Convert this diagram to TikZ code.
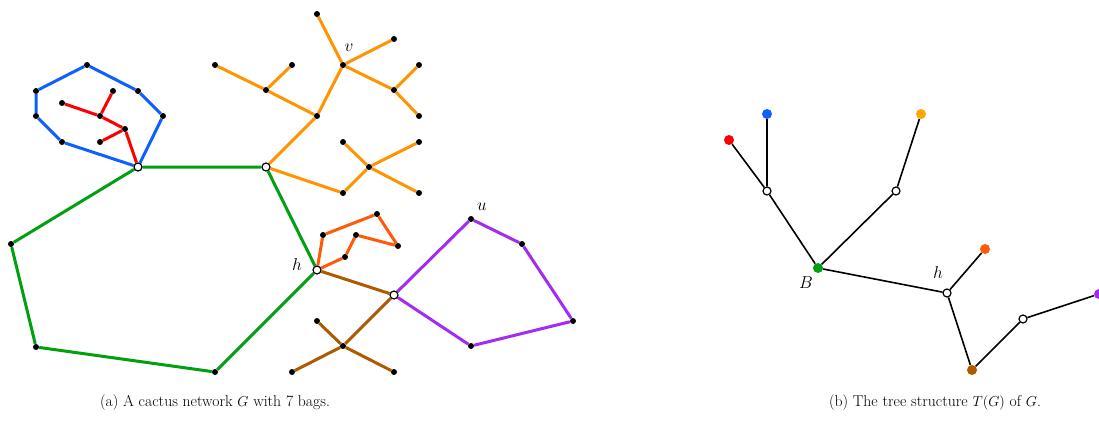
\documentclass[tikz,border=0pt]{standalone}
\usetikzlibrary{backgrounds}
\definecolor{bagblue}{HTML}{0F5FFF}
\definecolor{bagred}{HTML}{FF0000}
\definecolor{baggreen}{HTML}{00A010}
\definecolor{bagorange}{HTML}{FF9400}
\definecolor{bagyellow}{HTML}{FFA500}
\definecolor{bagtomato}{HTML}{FF5A08}
\definecolor{bagbrown}{HTML}{AE5A00}
\definecolor{bagpurple}{HTML}{A42CF0}
\begin{document}
\begin{tikzpicture}[x=1pt,y=-1pt,
    dot/.style={circle,fill=black,inner sep=0pt,minimum size=6pt},
    cut/.style={circle,draw=black,fill=white,line width=1.2pt,inner sep=0pt,minimum size=8pt},
    tdot/.style={circle,fill=#1,inner sep=0pt,minimum size=10pt},
    bagedge/.style={line width=3pt,draw=#1},
    tedge/.style={line width=1.6pt,draw=black},
    lbl/.style={font=\fontsize{17}{20}\selectfont,inner sep=0pt},
    captext/.style={font=\fontsize{15.7}{19}\selectfont}]
  \useasboundingbox (0,0) rectangle (1099,420);

  % (a) cactus network G
  % cut vertices
  \node[cut] (c1) at (138,167) {};
  \node[cut] (c2) at (266,167) {};
  \node[cut] (h)  at (317,270) {};
  \node[cut] (c4) at (394,295) {};
  % blue bag
  \node[dot] (b1) at (87,65) {};
  \node[dot] (b2) at (138,91) {};
  \node[dot] (b3) at (163,116) {};
  \node[dot] (b4) at (62,142) {};
  \node[dot] (b5) at (36,116) {};
  \node[dot] (b6) at (36,91) {};
  % red bag
  \node[dot] (r1) at (125,129) {};
  \node[dot] (r2) at (100,116) {};
  \node[dot] (r3) at (113,91) {};
  \node[dot] (r4) at (62,103) {};
  \node[dot] (r5) at (100,142) {};
  % green bag
  \node[dot] (g1) at (215,372) {};
  \node[dot] (g2) at (36,347) {};
  \node[dot] (g3) at (11,244) {};
  % orange bag
  \node[dot] (o1) at (317,116) {};
  \node[dot] (v)  at (343,65) {};
  \node[dot] (o2) at (317,14) {};
  \node[dot] (o3) at (394,39) {};
  \node[dot] (o4) at (394,90) {};
  \node[dot] (o5) at (419,65) {};
  \node[dot] (o6) at (419,116) {};
  \node[dot] (o7) at (266,90) {};
  \node[dot] (o8) at (215,65) {};
  \node[dot] (o9) at (292,65) {};
  \node[dot] (o10) at (343,193) {};
  \node[dot] (o11) at (369,167) {};
  \node[dot] (o12) at (343,142) {};
  \node[dot] (o13) at (419,142) {};
  \node[dot] (o14) at (419,193) {};
  % tomato bag
  \node[dot] (q1) at (323,235) {};
  \node[dot] (q2) at (377,214) {};
  \node[dot] (q3) at (398,246) {};
  \node[dot] (q4) at (356,235) {};
  \node[dot] (q5) at (345,257) {};
  % brown bag
  \node[dot] (w1) at (343,346) {};
  \node[dot] (w2) at (317,321) {};
  \node[dot] (w3) at (292,372) {};
  \node[dot] (w4) at (394,372) {};
  % purple bag
  \node[dot] (u)  at (471,219) {};
  \node[dot] (p1) at (522,244) {};
  \node[dot] (p2) at (573,321) {};
  \node[dot] (p3) at (471,346) {};
  % labels
  \node[lbl] (vlbl) at (349,48) {$v$};
  \node[lbl] (ulbl) at (482,207) {$u$};
  \node[lbl] (hlbl) at (297,264) {$h$};

  \begin{scope}[on background layer]
    \draw[bagedge=bagblue] (b1) -- (b2) -- (b3) -- (c1) -- (b4) -- (b5) -- (b6) -- (b1);
    \draw[bagedge=bagred] (c1) -- (r1) -- (r2) -- (r3);
    \draw[bagedge=bagred] (r2) -- (r4);
    \draw[bagedge=bagred] (r1) -- (r5);
    \draw[bagedge=baggreen] (c1) -- (c2) -- (h) -- (g1) -- (g2) -- (g3) -- (c1);
    \draw[bagedge=bagorange] (c2) -- (o1) -- (v) -- (o2);
    \draw[bagedge=bagorange] (v) -- (o3);
    \draw[bagedge=bagorange] (v) -- (o4) -- (o5);
    \draw[bagedge=bagorange] (o4) -- (o6);
    \draw[bagedge=bagorange] (o1) -- (o7) -- (o8);
    \draw[bagedge=bagorange] (o7) -- (o9);
    \draw[bagedge=bagorange] (c2) -- (o10) -- (o11) -- (o12);
    \draw[bagedge=bagorange] (o11) -- (o13);
    \draw[bagedge=bagorange] (o11) -- (o14);
    \draw[bagedge=bagtomato] (h) -- (q1) -- (q2) -- (q3) -- (q4) -- (q5) -- (h);
    \draw[bagedge=bagbrown] (h) -- (c4) -- (w1) -- (w2);
    \draw[bagedge=bagbrown] (w1) -- (w3);
    \draw[bagedge=bagbrown] (w1) -- (w4);
    \draw[bagedge=bagpurple] (c4) -- (u) -- (p1) -- (p2) -- (p3) -- (c4);
  \end{scope}

  % (b) tree structure T(G)
  \node[tdot=bagred]    (tred)    at (729,140) {};
  \node[tdot=bagblue]   (tblue)   at (767,114) {};
  \node[cut]            (tc1)     at (767,191) {};
  \node[tdot=baggreen]  (B)       at (818,268) {};
  \node[cut]            (tc2)     at (896,191) {};
  \node[tdot=bagyellow] (torange) at (921,114) {};
  \node[cut]            (th)      at (947,293) {};
  \node[tdot=bagtomato] (ttomato) at (985,249) {};
  \node[tdot=bagbrown]  (tbrown)  at (972,370) {};
  \node[cut]            (tc4)     at (1023,319) {};
  \node[tdot=bagpurple] (tpurple) at (1099,294) {};
  \node[lbl] (Blbl) at (806,283) {$B$};
  \node[lbl] (thlbl) at (938,272) {$h$};

  \begin{scope}[on background layer]
    \draw[tedge] (tred) -- (tc1) -- (tblue);
    \draw[tedge] (tc1) -- (B) -- (tc2) -- (torange);
    \draw[tedge] (B) -- (th) -- (ttomato);
    \draw[tedge] (th) -- (tbrown) -- (tc4) -- (tpurple);
  \end{scope}

  % captions
  \node[captext] (capa) at (215,403) {(a) A cactus network $G$ with 7 bags.};
  \node[captext] (capb) at (935,403) {(b) The tree structure $T(G)$ of $G$.};
\end{tikzpicture}
\end{document}
